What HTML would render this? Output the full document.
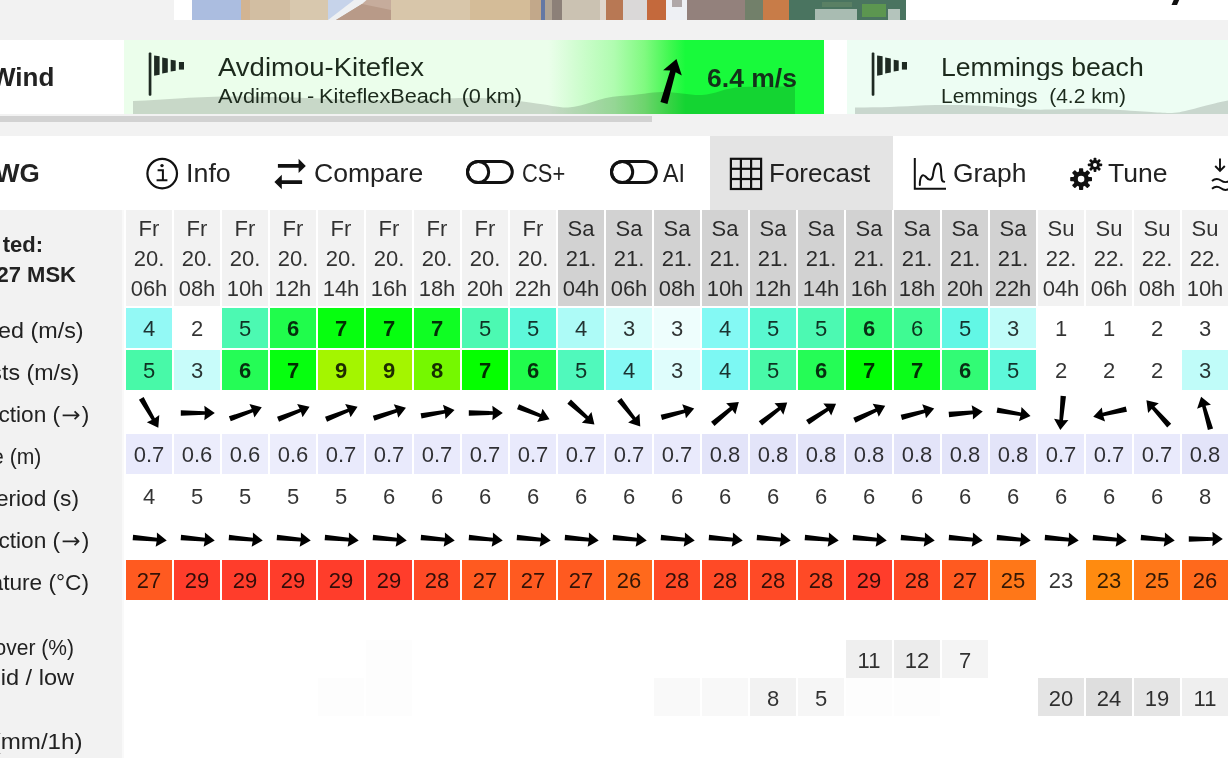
<!DOCTYPE html>
<html><head><meta charset="utf-8"><title>Windguru</title>
<style>
html,body{margin:0;padding:0}
html{overflow:hidden;background:#fff}
body{width:1228px;height:758px;overflow:hidden;background:#fff;position:relative;font-family:"Liberation Sans",sans-serif;color:#222}
div,span,svg{position:absolute;box-sizing:border-box}
#w{left:0;top:0;width:1228px;height:758px;filter:blur(0.6px);will-change:transform}
.t{white-space:nowrap;line-height:1;transform-origin:0 50%}
.c{width:46px;height:40px;text-align:center;font-size:22px;line-height:41px;color:rgba(0,0,0,.8)}
.h{width:46px;height:96px;top:210px;background:#f2f2f2;text-align:center;font-size:22px;line-height:30px;color:rgba(0,0,0,.8);padding-top:3.5px}
.h.sa{background:#d2d2d2}
.b{font-weight:bold;color:rgba(0,0,0,.82)}
.lab{font-size:22px;color:#222;white-space:nowrap;line-height:1;text-align:right;left:-200px;transform:scaleX(1.03);transform-origin:100% 50%}
.lab svg{position:static;display:inline-block;vertical-align:0;margin:0 2px 0 2px}
.tab{font-size:26px;color:#222;white-space:nowrap;line-height:1;transform-origin:0 50%;margin-top:1.5px}

</style></head><body><div id="w">
<div style="left:-20px;top:-20px;width:1268px;height:60px;background:#f2f2f2"></div>
<div style="left:174px;top:-20px;width:18px;height:40px;background:#fff"></div>
<div style="left:905px;top:-20px;width:343px;height:40px;background:#fff"></div>
<svg style="left:192px;top:-10px" width="714" height="30" viewBox="192 -10 714 30">
<rect x="192" y="-10" width="49.5" height="30" fill="#abbde0"/>
<rect x="241" y="-10" width="9.5" height="30" fill="#d2b492"/>
<rect x="250" y="-10" width="40.5" height="30" fill="#d2bea2"/>
<rect x="290" y="-10" width="38.5" height="30" fill="#d8c8ae"/>
<rect x="328" y="-10" width="34.5" height="30" fill="#bda190"/>
<rect x="362" y="-10" width="29.5" height="30" fill="#c6ac9c"/>
<rect x="391" y="-10" width="79.5" height="30" fill="#d8c6aa"/>
<rect x="470" y="-10" width="60.5" height="30" fill="#d4bc98"/>
<rect x="530" y="-10" width="11.5" height="30" fill="#c2a88a"/>
<rect x="541" y="-10" width="4.5" height="30" fill="#6478a4"/>
<rect x="545" y="-10" width="7.5" height="30" fill="#b0a494"/>
<rect x="552" y="-10" width="10.5" height="30" fill="#8c8078"/>
<rect x="562" y="-10" width="38.5" height="30" fill="#cbc2b2"/>
<rect x="600" y="-10" width="6.5" height="30" fill="#e0d6cc"/>
<rect x="606" y="-10" width="17.5" height="30" fill="#b87854"/>
<rect x="623" y="-10" width="24.5" height="30" fill="#dad8d8"/>
<rect x="647" y="-10" width="19.5" height="30" fill="#c4693c"/>
<rect x="666" y="-10" width="21.5" height="30" fill="#eef0f4"/>
<rect x="687" y="-10" width="58.5" height="30" fill="#93817c"/>
<rect x="745" y="-10" width="18.5" height="30" fill="#72806a"/>
<rect x="763" y="-10" width="26.5" height="30" fill="#c87c48"/>
<rect x="789" y="-10" width="117.5" height="30" fill="#4a7460"/>
<polygon points="328,-10 375,-10 329,20 328,20" fill="#c6d3ea"/>
<polygon points="367,-10 378,-10 362,4 336,20 328,20" fill="#eef0f2"/>
<polygon points="362,4 391,10 391,20 336,20" fill="#b89a88"/>
<rect x="672" y="-10" width="10" height="17" fill="#b0a8a8"/>
<rect x="815" y="9" width="42" height="11" fill="#a9bcb2"/>
<rect x="822" y="2" width="30" height="5" fill="#5a8064"/>
<rect x="862" y="4" width="24" height="13" fill="#5c9650"/>
<rect x="888" y="9" width="12" height="11" fill="#b4c4bc"/>
</svg>
<svg style="left:1168px;top:-10px" width="20" height="18" viewBox="0 -10 20 18"><polygon points="10.1,-10 15.6,-10 9,5 3.5,5" fill="#111"/></svg>
<div style="left:-20px;top:40px;width:1268px;height:74px;background:#fff"></div>
<div class="t" style="left:-9px;top:63.5px;font-size:26px;font-weight:bold;color:#222">Wind</div>
<div style="left:124px;top:40px;width:700px;height:74px;background:linear-gradient(90deg,#ebfeeb 0,#ebfeeb 60.6%,#d2fdd2 64.4%,#b0fcb0 70%,#80fa80 74.4%,#40f850 78%,#18fa3b 80.2%,#18fa3b 100%)"></div>
<svg style="left:124px;top:40px" width="700" height="74" viewBox="124 40 700 74">
<path d="M133,114 L133,101 C150,100.4 165,99.3 182,98.2 C200,97.2 215,96.5 235,96.5 C300,96.5 330,100 380,100 C420,100 440,98 470,98 C500,98 510,100 530,102.5 C550,105 560,108 568,107.5 C585,106.5 600,97 620,96 C640,95 650,92 662,92 C678,92 690,95.5 702,95 C715,94.5 725,87.5 742,87 C760,86.5 780,86.5 795,86.5 L795,114 Z" fill="#000" fill-opacity="0.15"/>
</svg>
<svg style="left:148px;top:50px" width="42" height="50" viewBox="148 50 42 50"><rect x="148.7" y="52.6" width="2.7" height="43.2" rx="1" fill="#1e2a22"/><polygon points="154.1,55.4 159.6,56.3 159.6,74.8 154.1,75.8" fill="#1e2a22"/><polygon points="162.2,57.6 167.8,58.5 167.8,72.6 162.2,73.6" fill="#1e2a22"/><polygon points="170.7,59.8 175.7,60.6 175.7,70.8 170.7,71.6" fill="#1e2a22"/><polygon points="178.9,62 184,62 184,69.6 178.9,69.6" fill="#1e2a22"/></svg>
<div class="t" id="n1" style="transform:scaleX(1.0586);left:218px;top:54px;font-size:26px;color:#1c2a1c">Avdimou-Kiteflex</div>
<div class="t" id="s1" style="transform:scaleX(1.0846);left:218px;top:86px;font-size:20px;color:#1c2a1c;word-spacing:-1px">Avdimou - KiteflexBeach &nbsp;(0 km)</div>
<svg style="left:650px;top:50px" width="40" height="60" viewBox="650 50 40 60"><g transform="translate(670.2,81) rotate(-74.2) scale(1.35)"><polygon points="-17,-2.7 7.4,-2.1 6.2,-7.2 17,0 6.2,7.2 7.4,2.1 -17,2.7" fill="#000"/></g></svg>
<div class="t" id="spd" style="transform:scaleX(1.0204);left:707px;top:65px;font-size:26px;font-weight:bold;color:#14301a">6.4 m/s</div>
<div style="left:847px;top:40px;width:401px;height:74px;background:#edfdf3"></div>
<svg style="left:847px;top:40px" width="381" height="74" viewBox="847 40 381 74">
<path d="M855,114 L855,107.5 C880,107.5 900,106.5 925,105.2 C950,104.5 980,105 1000,107 C1020,109 1030,110 1050,109.5 C1080,108.5 1100,108.5 1120,110 C1150,112 1165,113 1172,113 C1185,112.5 1200,106 1228,100.5 L1228,114 Z" fill="#000" fill-opacity="0.15"/>
</svg>
<svg style="left:871px;top:50px" width="42" height="50" viewBox="871 50 42 50"><rect x="871.7" y="52.6" width="2.7" height="43.2" rx="1" fill="#1e2a22"/><polygon points="877.1,55.4 882.6,56.3 882.6,74.8 877.1,75.8" fill="#1e2a22"/><polygon points="885.2,57.6 890.8,58.5 890.8,72.6 885.2,73.6" fill="#1e2a22"/><polygon points="893.7,59.8 898.7,60.6 898.7,70.8 893.7,71.6" fill="#1e2a22"/><polygon points="901.9,62 907,62 907,69.6 901.9,69.6" fill="#1e2a22"/></svg>
<div style="left:941px;top:50px;width:287px;height:30px;overflow:hidden"><div class="t" id="n2" style="transform:scaleX(1.0237);left:0;top:4px;font-size:26px;color:#1c2a1c">Lemmings beach</div></div>
<div class="t" id="s2" style="transform:scaleX(1.0470);left:941px;top:86px;font-size:20px;color:#1c2a1c">Lemmings &nbsp;(4.2 km)</div>
<div style="left:-20px;top:114px;width:1268px;height:22px;background:#f2f2f2"></div>
<div style="left:-20px;top:116px;width:672px;height:5.5px;background:#d2d2d2"></div>
<div style="left:-20px;top:136px;width:1268px;height:74px;background:#fff"></div>
<div style="left:710px;top:136px;width:183px;height:74px;background:#e4e4e4"></div>
<div class="t" style="left:-5px;top:159.6px;font-size:26px;font-weight:bold;color:#222">WG</div>
<svg style="left:144px;top:156px" width="36" height="36" viewBox="144 156 36 36"><circle cx="162.2" cy="173.6" r="14.8" fill="none" stroke="#111" stroke-width="2.2"/><circle cx="162" cy="165.6" r="1.7" fill="#111"/><path d="M157.6,170.2 H162.9 V180 M156.6,180.2 H167.4" fill="none" stroke="#111" stroke-width="2"/></svg>
<div class="tab" id="t_info" style="transform:scaleX(1.0323);left:186px;top:158px">Info</div>
<svg style="left:272px;top:156px" width="36" height="36" viewBox="272 156 36 36"><polygon points="277.9,164.1 298.6,164.1 298.6,158.7 305.8,165.9 298.6,173 298.6,167.8 277.9,167.8" fill="#111"/><polygon points="302.1,180.2 281.8,180.2 281.8,174.7 274.4,182 281.8,189.3 281.8,184 302.1,184" fill="#111"/></svg>
<div class="tab" id="t_cmp" style="transform:scaleX(1.0215);left:314px;top:158px">Compare</div>
<svg style="left:464px;top:156px" width="52" height="32" viewBox="464 156 52 32"><rect x="467.5" y="161.4" width="44.8" height="21.2" rx="10.6" fill="none" stroke="#111" stroke-width="3"/><circle cx="478.1" cy="172" r="10.6" fill="none" stroke="#111" stroke-width="3"/></svg>
<div class="tab" id="t_cs" style="transform:scaleX(0.8421);left:522px;top:158px">CS+</div>
<svg style="left:608px;top:156px" width="52" height="32" viewBox="608 156 52 32"><rect x="611.5" y="161.4" width="44.8" height="21.2" rx="10.6" fill="none" stroke="#111" stroke-width="3"/><circle cx="622.1" cy="172" r="10.6" fill="none" stroke="#111" stroke-width="3"/></svg>
<div class="tab" id="t_ai" style="transform:scaleX(0.8943);left:663px;top:158px">AI</div>
<svg style="left:728px;top:156px" width="36" height="36" viewBox="728 156 36 36"><rect x="730.9" y="158.8" width="30.2" height="30.2" fill="none" stroke="#111" stroke-width="2.2"/><path d="M740.9,158.8 V189" stroke="#111" stroke-width="2.2"/><path d="M751.1,158.8 V189" stroke="#111" stroke-width="2.2"/><path d="M730.9,168.8 H761.1" stroke="#111" stroke-width="2.2"/><path d="M730.9,179 H761.1" stroke="#111" stroke-width="2.2"/></svg>
<div class="tab" id="t_fc" style="left:769px;top:158px">Forecast</div>
<svg style="left:912px;top:156px" width="36" height="36" viewBox="912 156 36 36"><path d="M914.8,158 V188.8 H946" fill="none" stroke="#111" stroke-width="2"/><path d="M919.8,185 C919.8,175 923,174 925.5,176.5 C928,179.5 931.5,182 932.8,176 C934,168 935,163.5 938,163.5 C941.2,163.5 941,170 941.3,175 C941.6,180 942,181.8 944.2,181.8" fill="none" stroke="#111" stroke-width="2" stroke-linecap="round"/></svg>
<div class="tab" id="t_gr" style="transform:scaleX(1.0152);left:953px;top:158px">Graph</div>
<svg style="left:1068px;top:156px" width="38" height="36" viewBox="1068 156 38 36"><g transform="translate(1081.1,179.1)"><circle r="7.8" fill="#111"/><rect x="-2.1" y="-10.9" width="4.2" height="10.9" rx="0.8" fill="#111" transform="rotate(0.0)"/><rect x="-2.1" y="-10.9" width="4.2" height="10.9" rx="0.8" fill="#111" transform="rotate(45.0)"/><rect x="-2.1" y="-10.9" width="4.2" height="10.9" rx="0.8" fill="#111" transform="rotate(90.0)"/><rect x="-2.1" y="-10.9" width="4.2" height="10.9" rx="0.8" fill="#111" transform="rotate(135.0)"/><rect x="-2.1" y="-10.9" width="4.2" height="10.9" rx="0.8" fill="#111" transform="rotate(180.0)"/><rect x="-2.1" y="-10.9" width="4.2" height="10.9" rx="0.8" fill="#111" transform="rotate(225.0)"/><rect x="-2.1" y="-10.9" width="4.2" height="10.9" rx="0.8" fill="#111" transform="rotate(270.0)"/><rect x="-2.1" y="-10.9" width="4.2" height="10.9" rx="0.8" fill="#111" transform="rotate(315.0)"/><circle r="3.3" fill="#fff"/></g><g transform="translate(1095,164.9)"><circle r="4.8" fill="#111"/><rect x="-1.4" y="-7.2" width="2.8" height="7.2" rx="0.8" fill="#111" transform="rotate(0.0)"/><rect x="-1.4" y="-7.2" width="2.8" height="7.2" rx="0.8" fill="#111" transform="rotate(45.0)"/><rect x="-1.4" y="-7.2" width="2.8" height="7.2" rx="0.8" fill="#111" transform="rotate(90.0)"/><rect x="-1.4" y="-7.2" width="2.8" height="7.2" rx="0.8" fill="#111" transform="rotate(135.0)"/><rect x="-1.4" y="-7.2" width="2.8" height="7.2" rx="0.8" fill="#111" transform="rotate(180.0)"/><rect x="-1.4" y="-7.2" width="2.8" height="7.2" rx="0.8" fill="#111" transform="rotate(225.0)"/><rect x="-1.4" y="-7.2" width="2.8" height="7.2" rx="0.8" fill="#111" transform="rotate(270.0)"/><rect x="-1.4" y="-7.2" width="2.8" height="7.2" rx="0.8" fill="#111" transform="rotate(315.0)"/><circle r="2.0" fill="#fff"/></g></svg>
<div class="tab" id="t_tu" style="transform:scaleX(1.0206);left:1108px;top:158px">Tune</div>
<svg style="left:1208px;top:156px" width="40" height="36" viewBox="1208 156 40 36"><path d="M1220,158.5 V170.5 M1215.2,166 L1220,170.9 L1224.8,166" fill="none" stroke="#111" stroke-width="1.9"/><path d="M1212,181 C1215,178.3 1218,178.3 1221,180.5 C1224,182.7 1227,182.7 1230,180.5 C1233,178.3 1236,178.3 1239,180.5 M1212,188.8 C1215,186.1 1218,186.1 1221,188.3 C1224,190.5 1227,190.5 1230,188.3 C1233,186.1 1236,186.1 1239,188.3" fill="none" stroke="#111" stroke-width="1.9"/></svg>
<div style="left:-20px;top:210px;width:144px;height:568px;background:#f9f9f9"></div><div style="left:-20px;top:210px;width:142px;height:568px;background:#f2f2f2"></div><div style="left:124px;top:210px;width:1124px;height:568px;background:#fff"></div>
<div class="t" style="left:-200px;width:243px;text-align:right;top:234px;font-size:22px;font-weight:bold;color:#222">ted:</div>
<div class="t" style="left:-200px;width:276px;text-align:right;top:264px;font-size:22px;font-weight:bold;color:#222">27 MSK</div>
<div class="lab" style="width:283.6px;top:320px;transform:scaleX(1.06)">Wind speed (m/s)</div>
<div class="lab" style="width:279.3px;top:362px;transform:scaleX(1.055)">Wind gusts (m/s)</div>
<div class="lab" style="width:289.3px;top:404px;transform:scaleX(1.03)">Wind direction (<svg width="17" height="12" viewBox="0 0 17 12"><path d="M0.3,5.3 H15.8 M12,1.4 L16,5.3 L12,9.2" fill="none" stroke="#222" stroke-width="1.7"/></svg>)</div>
<div class="lab" style="width:241.3px;top:446px;transform:scaleX(0.96)">Wave (m)</div>
<div class="lab" style="width:279px;top:488px;transform:scaleX(1.03)">Wave period (s)</div>
<div class="lab" style="width:289.3px;top:530px;transform:scaleX(1.03)">Wave direction (<svg width="17" height="12" viewBox="0 0 17 12"><path d="M0.3,5.3 H15.8 M12,1.4 L16,5.3 L12,9.2" fill="none" stroke="#222" stroke-width="1.7"/></svg>)</div>
<div class="lab" style="width:289px;top:572px;transform:scaleX(1.03)">Temperature (°C)</div>
<div class="lab" style="width:274px;top:637px;transform:scaleX(0.955)">Cloud cover (%)</div>
<div class="lab" style="width:274px;top:667px;transform:scaleX(1.07)">high / mid / low</div>
<div class="lab" style="width:282.5px;top:731px;transform:scaleX(1.097)">Precip. (mm/1h)</div>
<div class="h" style="left:126px">Fr<br>20.<br>06h</div>
<div class="h" style="left:174px">Fr<br>20.<br>08h</div>
<div class="h" style="left:222px">Fr<br>20.<br>10h</div>
<div class="h" style="left:270px">Fr<br>20.<br>12h</div>
<div class="h" style="left:318px">Fr<br>20.<br>14h</div>
<div class="h" style="left:366px">Fr<br>20.<br>16h</div>
<div class="h" style="left:414px">Fr<br>20.<br>18h</div>
<div class="h" style="left:462px">Fr<br>20.<br>20h</div>
<div class="h" style="left:510px">Fr<br>20.<br>22h</div>
<div class="h sa" style="left:558px">Sa<br>21.<br>04h</div>
<div class="h sa" style="left:606px">Sa<br>21.<br>06h</div>
<div class="h sa" style="left:654px">Sa<br>21.<br>08h</div>
<div class="h sa" style="left:702px">Sa<br>21.<br>10h</div>
<div class="h sa" style="left:750px">Sa<br>21.<br>12h</div>
<div class="h sa" style="left:798px">Sa<br>21.<br>14h</div>
<div class="h sa" style="left:846px">Sa<br>21.<br>16h</div>
<div class="h sa" style="left:894px">Sa<br>21.<br>18h</div>
<div class="h sa" style="left:942px">Sa<br>21.<br>20h</div>
<div class="h sa" style="left:990px">Sa<br>21.<br>22h</div>
<div class="h" style="left:1038px">Su<br>22.<br>04h</div>
<div class="h" style="left:1086px">Su<br>22.<br>06h</div>
<div class="h" style="left:1134px">Su<br>22.<br>08h</div>
<div class="h" style="left:1182px;width:66px;padding-right:20px">Su<br>22.<br>10h</div>
<div class="c" style="left:126px;top:308px;background:#93f9f5">4</div>
<div class="c" style="left:174px;top:308px">2</div>
<div class="c" style="left:222px;top:308px;background:#4cf9b2">5</div>
<div class="c b" style="left:270px;top:308px;background:#20fc4c">6</div>
<div class="c b" style="left:318px;top:308px;background:#06ff0f">7</div>
<div class="c b" style="left:366px;top:308px;background:#06ff0f">7</div>
<div class="c b" style="left:414px;top:308px;background:#0ffe23">7</div>
<div class="c" style="left:462px;top:308px;background:#4cf9b2">5</div>
<div class="c" style="left:510px;top:308px;background:#5df8da">5</div>
<div class="c" style="left:558px;top:308px;background:#adfbf7">4</div>
<div class="c" style="left:606px;top:308px;background:#d7fdfb">3</div>
<div class="c" style="left:654px;top:308px;background:#eefefd">3</div>
<div class="c" style="left:702px;top:308px;background:#84f9f4">4</div>
<div class="c" style="left:750px;top:308px;background:#59f8d0">5</div>
<div class="c" style="left:798px;top:308px;background:#4cf9b2">5</div>
<div class="c b" style="left:846px;top:308px;background:#32fb75">6</div>
<div class="c" style="left:894px;top:308px;background:#3ffa93">6</div>
<div class="c" style="left:942px;top:308px;background:#62f7e5">5</div>
<div class="c" style="left:990px;top:308px;background:#c0fcf9">3</div>
<div class="c" style="left:1038px;top:308px">1</div>
<div class="c" style="left:1086px;top:308px">1</div>
<div class="c" style="left:1134px;top:308px">2</div>
<div class="c" style="left:1182px;top:308px;width:66px;padding-right:20px">3</div>
<div class="c" style="left:126px;top:350px;background:#48f9a8">5</div>
<div class="c" style="left:174px;top:350px;background:#c8fcfa">3</div>
<div class="c b" style="left:222px;top:350px;background:#25fc56">6</div>
<div class="c b" style="left:270px;top:350px;background:#06ff0f">7</div>
<div class="c b" style="left:318px;top:350px;background:#a4f500">9</div>
<div class="c b" style="left:366px;top:350px;background:#a4f500">9</div>
<div class="c b" style="left:414px;top:350px;background:#75f800">8</div>
<div class="c b" style="left:462px;top:350px;background:#05ff00">7</div>
<div class="c b" style="left:510px;top:350px;background:#20fc4c">6</div>
<div class="c" style="left:558px;top:350px;background:#50f9bc">5</div>
<div class="c" style="left:606px;top:350px;background:#84f9f4">4</div>
<div class="c" style="left:654px;top:350px;background:#dffdfc">3</div>
<div class="c" style="left:702px;top:350px;background:#7cf8f3">4</div>
<div class="c" style="left:750px;top:350px;background:#48f9a8">5</div>
<div class="c b" style="left:798px;top:350px;background:#25fc56">6</div>
<div class="c b" style="left:846px;top:350px;background:#02ff05">7</div>
<div class="c b" style="left:894px;top:350px;background:#0bfe19">7</div>
<div class="c b" style="left:942px;top:350px;background:#32fb75">6</div>
<div class="c" style="left:990px;top:350px;background:#5df8da">5</div>
<div class="c" style="left:1038px;top:350px">2</div>
<div class="c" style="left:1086px;top:350px">2</div>
<div class="c" style="left:1134px;top:350px">2</div>
<div class="c" style="left:1182px;top:350px;width:66px;padding-right:20px;background:#c0fcf9">3</div>
<svg style="left:126px;top:392px" width="1102" height="40" viewBox="0 0 1102 40"><polygon points="-17,-2.7 7,-1.8 6.5,-7.2 17,0 6.5,7.2 7,1.8 -17,2.7" transform="translate(23.8,21) rotate(60)" fill="#000"/><polygon points="-17,-2.7 7,-1.8 6.5,-7.2 17,0 6.5,7.2 7,1.8 -17,2.7" transform="translate(71.8,21) rotate(0)" fill="#000"/><polygon points="-17,-2.7 7,-1.8 6.5,-7.2 17,0 6.5,7.2 7,1.8 -17,2.7" transform="translate(119.8,21) rotate(-20)" fill="#000"/><polygon points="-17,-2.7 7,-1.8 6.5,-7.2 17,0 6.5,7.2 7,1.8 -17,2.7" transform="translate(167.8,21) rotate(-22)" fill="#000"/><polygon points="-17,-2.7 7,-1.8 6.5,-7.2 17,0 6.5,7.2 7,1.8 -17,2.7" transform="translate(215.8,21) rotate(-22)" fill="#000"/><polygon points="-17,-2.7 7,-1.8 6.5,-7.2 17,0 6.5,7.2 7,1.8 -17,2.7" transform="translate(263.8,21) rotate(-18)" fill="#000"/><polygon points="-17,-2.7 7,-1.8 6.5,-7.2 17,0 6.5,7.2 7,1.8 -17,2.7" transform="translate(311.8,21) rotate(-10)" fill="#000"/><polygon points="-17,-2.7 7,-1.8 6.5,-7.2 17,0 6.5,7.2 7,1.8 -17,2.7" transform="translate(359.8,21) rotate(0)" fill="#000"/><polygon points="-17,-2.7 7,-1.8 6.5,-7.2 17,0 6.5,7.2 7,1.8 -17,2.7" transform="translate(407.8,21) rotate(22)" fill="#000"/><polygon points="-17,-2.7 7,-1.8 6.5,-7.2 17,0 6.5,7.2 7,1.8 -17,2.7" transform="translate(455.8,21) rotate(42)" fill="#000"/><polygon points="-17,-2.7 7,-1.8 6.5,-7.2 17,0 6.5,7.2 7,1.8 -17,2.7" transform="translate(503.8,21) rotate(52)" fill="#000"/><polygon points="-17,-2.7 7,-1.8 6.5,-7.2 17,0 6.5,7.2 7,1.8 -17,2.7" transform="translate(551.8,21) rotate(-15)" fill="#000"/><polygon points="-17,-2.7 7,-1.8 6.5,-7.2 17,0 6.5,7.2 7,1.8 -17,2.7" transform="translate(599.8,21) rotate(-40)" fill="#000"/><polygon points="-17,-2.7 7,-1.8 6.5,-7.2 17,0 6.5,7.2 7,1.8 -17,2.7" transform="translate(647.8,21) rotate(-38)" fill="#000"/><polygon points="-17,-2.7 7,-1.8 6.5,-7.2 17,0 6.5,7.2 7,1.8 -17,2.7" transform="translate(695.8,21) rotate(-33)" fill="#000"/><polygon points="-17,-2.7 7,-1.8 6.5,-7.2 17,0 6.5,7.2 7,1.8 -17,2.7" transform="translate(743.8,21) rotate(-25)" fill="#000"/><polygon points="-17,-2.7 7,-1.8 6.5,-7.2 17,0 6.5,7.2 7,1.8 -17,2.7" transform="translate(791.8,21) rotate(-15)" fill="#000"/><polygon points="-17,-2.7 7,-1.8 6.5,-7.2 17,0 6.5,7.2 7,1.8 -17,2.7" transform="translate(839.8,21) rotate(-5)" fill="#000"/><polygon points="-17,-2.7 7,-1.8 6.5,-7.2 17,0 6.5,7.2 7,1.8 -17,2.7" transform="translate(887.8,21) rotate(10)" fill="#000"/><polygon points="-17,-2.7 7,-1.8 6.5,-7.2 17,0 6.5,7.2 7,1.8 -17,2.7" transform="translate(935.8,21) rotate(95)" fill="#000"/><polygon points="-17,-2.7 7,-1.8 6.5,-7.2 17,0 6.5,7.2 7,1.8 -17,2.7" transform="translate(983.8,21) rotate(167)" fill="#000"/><polygon points="-17,-2.7 7,-1.8 6.5,-7.2 17,0 6.5,7.2 7,1.8 -17,2.7" transform="translate(1031.8,21) rotate(-132)" fill="#000"/><polygon points="-17,-2.7 7,-1.8 6.5,-7.2 17,0 6.5,7.2 7,1.8 -17,2.7" transform="translate(1079.8,21) rotate(-106)" fill="#000"/></svg>
<div class="c" style="left:126px;top:434px;background:#e9eafc">0.7</div>
<div class="c" style="left:174px;top:434px;background:#ecedfc">0.6</div>
<div class="c" style="left:222px;top:434px;background:#ecedfc">0.6</div>
<div class="c" style="left:270px;top:434px;background:#ecedfc">0.6</div>
<div class="c" style="left:318px;top:434px;background:#e9eafc">0.7</div>
<div class="c" style="left:366px;top:434px;background:#e9eafc">0.7</div>
<div class="c" style="left:414px;top:434px;background:#e9eafc">0.7</div>
<div class="c" style="left:462px;top:434px;background:#e9eafc">0.7</div>
<div class="c" style="left:510px;top:434px;background:#e9eafc">0.7</div>
<div class="c" style="left:558px;top:434px;background:#e9eafc">0.7</div>
<div class="c" style="left:606px;top:434px;background:#e9eafc">0.7</div>
<div class="c" style="left:654px;top:434px;background:#e9eafc">0.7</div>
<div class="c" style="left:702px;top:434px;background:#e3e4f9">0.8</div>
<div class="c" style="left:750px;top:434px;background:#e3e4f9">0.8</div>
<div class="c" style="left:798px;top:434px;background:#e3e4f9">0.8</div>
<div class="c" style="left:846px;top:434px;background:#e3e4f9">0.8</div>
<div class="c" style="left:894px;top:434px;background:#e3e4f9">0.8</div>
<div class="c" style="left:942px;top:434px;background:#e3e4f9">0.8</div>
<div class="c" style="left:990px;top:434px;background:#e3e4f9">0.8</div>
<div class="c" style="left:1038px;top:434px;background:#e9eafc">0.7</div>
<div class="c" style="left:1086px;top:434px;background:#e9eafc">0.7</div>
<div class="c" style="left:1134px;top:434px;background:#e9eafc">0.7</div>
<div class="c" style="left:1182px;top:434px;width:66px;padding-right:20px;background:#e3e4f9">0.8</div>
<div class="c" style="left:126px;top:476px">4</div>
<div class="c" style="left:174px;top:476px">5</div>
<div class="c" style="left:222px;top:476px">5</div>
<div class="c" style="left:270px;top:476px">5</div>
<div class="c" style="left:318px;top:476px">5</div>
<div class="c" style="left:366px;top:476px">6</div>
<div class="c" style="left:414px;top:476px">6</div>
<div class="c" style="left:462px;top:476px">6</div>
<div class="c" style="left:510px;top:476px">6</div>
<div class="c" style="left:558px;top:476px">6</div>
<div class="c" style="left:606px;top:476px">6</div>
<div class="c" style="left:654px;top:476px">6</div>
<div class="c" style="left:702px;top:476px">6</div>
<div class="c" style="left:750px;top:476px">6</div>
<div class="c" style="left:798px;top:476px">6</div>
<div class="c" style="left:846px;top:476px">6</div>
<div class="c" style="left:894px;top:476px">6</div>
<div class="c" style="left:942px;top:476px">6</div>
<div class="c" style="left:990px;top:476px">6</div>
<div class="c" style="left:1038px;top:476px">6</div>
<div class="c" style="left:1086px;top:476px">6</div>
<div class="c" style="left:1134px;top:476px">6</div>
<div class="c" style="left:1182px;top:476px;width:66px;padding-right:20px">8</div>
<svg style="left:126px;top:518px" width="1102" height="40" viewBox="0 0 1102 40"><polygon points="-17,-2.7 7,-1.8 6.5,-7.2 17,0 6.5,7.2 7,1.8 -17,2.7" transform="translate(23.8,21) rotate(5)" fill="#000"/><polygon points="-17,-2.7 7,-1.8 6.5,-7.2 17,0 6.5,7.2 7,1.8 -17,2.7" transform="translate(71.8,21) rotate(5)" fill="#000"/><polygon points="-17,-2.7 7,-1.8 6.5,-7.2 17,0 6.5,7.2 7,1.8 -17,2.7" transform="translate(119.8,21) rotate(5)" fill="#000"/><polygon points="-17,-2.7 7,-1.8 6.5,-7.2 17,0 6.5,7.2 7,1.8 -17,2.7" transform="translate(167.8,21) rotate(5)" fill="#000"/><polygon points="-17,-2.7 7,-1.8 6.5,-7.2 17,0 6.5,7.2 7,1.8 -17,2.7" transform="translate(215.8,21) rotate(5)" fill="#000"/><polygon points="-17,-2.7 7,-1.8 6.5,-7.2 17,0 6.5,7.2 7,1.8 -17,2.7" transform="translate(263.8,21) rotate(5)" fill="#000"/><polygon points="-17,-2.7 7,-1.8 6.5,-7.2 17,0 6.5,7.2 7,1.8 -17,2.7" transform="translate(311.8,21) rotate(5)" fill="#000"/><polygon points="-17,-2.7 7,-1.8 6.5,-7.2 17,0 6.5,7.2 7,1.8 -17,2.7" transform="translate(359.8,21) rotate(5)" fill="#000"/><polygon points="-17,-2.7 7,-1.8 6.5,-7.2 17,0 6.5,7.2 7,1.8 -17,2.7" transform="translate(407.8,21) rotate(5)" fill="#000"/><polygon points="-17,-2.7 7,-1.8 6.5,-7.2 17,0 6.5,7.2 7,1.8 -17,2.7" transform="translate(455.8,21) rotate(5)" fill="#000"/><polygon points="-17,-2.7 7,-1.8 6.5,-7.2 17,0 6.5,7.2 7,1.8 -17,2.7" transform="translate(503.8,21) rotate(5)" fill="#000"/><polygon points="-17,-2.7 7,-1.8 6.5,-7.2 17,0 6.5,7.2 7,1.8 -17,2.7" transform="translate(551.8,21) rotate(5)" fill="#000"/><polygon points="-17,-2.7 7,-1.8 6.5,-7.2 17,0 6.5,7.2 7,1.8 -17,2.7" transform="translate(599.8,21) rotate(5)" fill="#000"/><polygon points="-17,-2.7 7,-1.8 6.5,-7.2 17,0 6.5,7.2 7,1.8 -17,2.7" transform="translate(647.8,21) rotate(5)" fill="#000"/><polygon points="-17,-2.7 7,-1.8 6.5,-7.2 17,0 6.5,7.2 7,1.8 -17,2.7" transform="translate(695.8,21) rotate(5)" fill="#000"/><polygon points="-17,-2.7 7,-1.8 6.5,-7.2 17,0 6.5,7.2 7,1.8 -17,2.7" transform="translate(743.8,21) rotate(5)" fill="#000"/><polygon points="-17,-2.7 7,-1.8 6.5,-7.2 17,0 6.5,7.2 7,1.8 -17,2.7" transform="translate(791.8,21) rotate(5)" fill="#000"/><polygon points="-17,-2.7 7,-1.8 6.5,-7.2 17,0 6.5,7.2 7,1.8 -17,2.7" transform="translate(839.8,21) rotate(5)" fill="#000"/><polygon points="-17,-2.7 7,-1.8 6.5,-7.2 17,0 6.5,7.2 7,1.8 -17,2.7" transform="translate(887.8,21) rotate(5)" fill="#000"/><polygon points="-17,-2.7 7,-1.8 6.5,-7.2 17,0 6.5,7.2 7,1.8 -17,2.7" transform="translate(935.8,21) rotate(5)" fill="#000"/><polygon points="-17,-2.7 7,-1.8 6.5,-7.2 17,0 6.5,7.2 7,1.8 -17,2.7" transform="translate(983.8,21) rotate(5)" fill="#000"/><polygon points="-17,-2.7 7,-1.8 6.5,-7.2 17,0 6.5,7.2 7,1.8 -17,2.7" transform="translate(1031.8,21) rotate(5)" fill="#000"/><polygon points="-17,-2.7 7,-1.8 6.5,-7.2 17,0 6.5,7.2 7,1.8 -17,2.7" transform="translate(1079.8,21) rotate(0)" fill="#000"/></svg>
<div class="c" style="left:126px;top:560px;background:#ff5a20">27</div>
<div class="c" style="left:174px;top:560px;background:#ff3d2b">29</div>
<div class="c" style="left:222px;top:560px;background:#ff3d2b">29</div>
<div class="c" style="left:270px;top:560px;background:#ff3d2b">29</div>
<div class="c" style="left:318px;top:560px;background:#ff3d2b">29</div>
<div class="c" style="left:366px;top:560px;background:#ff3d2b">29</div>
<div class="c" style="left:414px;top:560px;background:#ff4a26">28</div>
<div class="c" style="left:462px;top:560px;background:#ff5a20">27</div>
<div class="c" style="left:510px;top:560px;background:#ff5a20">27</div>
<div class="c" style="left:558px;top:560px;background:#ff5a20">27</div>
<div class="c" style="left:606px;top:560px;background:#ff691c">26</div>
<div class="c" style="left:654px;top:560px;background:#ff4a26">28</div>
<div class="c" style="left:702px;top:560px;background:#ff4a26">28</div>
<div class="c" style="left:750px;top:560px;background:#ff4a26">28</div>
<div class="c" style="left:798px;top:560px;background:#ff4a26">28</div>
<div class="c" style="left:846px;top:560px;background:#ff3d2b">29</div>
<div class="c" style="left:894px;top:560px;background:#ff4a26">28</div>
<div class="c" style="left:942px;top:560px;background:#ff5a20">27</div>
<div class="c" style="left:990px;top:560px;background:#ff7718">25</div>
<div class="c" style="left:1038px;top:560px">23</div>
<div class="c" style="left:1086px;top:560px;background:#ff8b10">23</div>
<div class="c" style="left:1134px;top:560px;background:#ff7718">25</div>
<div class="c" style="left:1182px;top:560px;width:66px;padding-right:20px;background:#ff691c">26</div>
<div class="c" style="left:366px;top:640px;height:38px;line-height:41px;background:#fdfdfd"></div>
<div class="c" style="left:846px;top:640px;height:38px;line-height:41px;background:#efefef">11</div>
<div class="c" style="left:894px;top:640px;height:38px;line-height:41px;background:#ececec">12</div>
<div class="c" style="left:942px;top:640px;height:38px;line-height:41px;background:#f4f4f4">7</div>
<div class="c" style="left:318px;top:678px;height:38px;line-height:41px;background:#fdfdfd"></div>
<div class="c" style="left:366px;top:678px;height:38px;line-height:41px;background:#fdfdfd"></div>
<div class="c" style="left:654px;top:678px;height:38px;line-height:41px;background:#f9f9f9"></div>
<div class="c" style="left:702px;top:678px;height:38px;line-height:41px;background:#f8f8f8"></div>
<div class="c" style="left:750px;top:678px;height:38px;line-height:41px;background:#f2f2f2">8</div>
<div class="c" style="left:798px;top:678px;height:38px;line-height:41px;background:#f6f6f6">5</div>
<div class="c" style="left:846px;top:678px;height:38px;line-height:41px;background:#fdfdfd"></div>
<div class="c" style="left:894px;top:678px;height:38px;line-height:41px;background:#fdfdfd"></div>
<div class="c" style="left:1038px;top:678px;height:38px;line-height:41px;background:#e4e4e4">20</div>
<div class="c" style="left:1086px;top:678px;height:38px;line-height:41px;background:#dedede">24</div>
<div class="c" style="left:1134px;top:678px;height:38px;line-height:41px;background:#e5e5e5">19</div>
<div class="c" style="left:1182px;top:678px;height:38px;line-height:41px;background:#efefef;width:66px;padding-right:20px">11</div>
</div></body></html>
